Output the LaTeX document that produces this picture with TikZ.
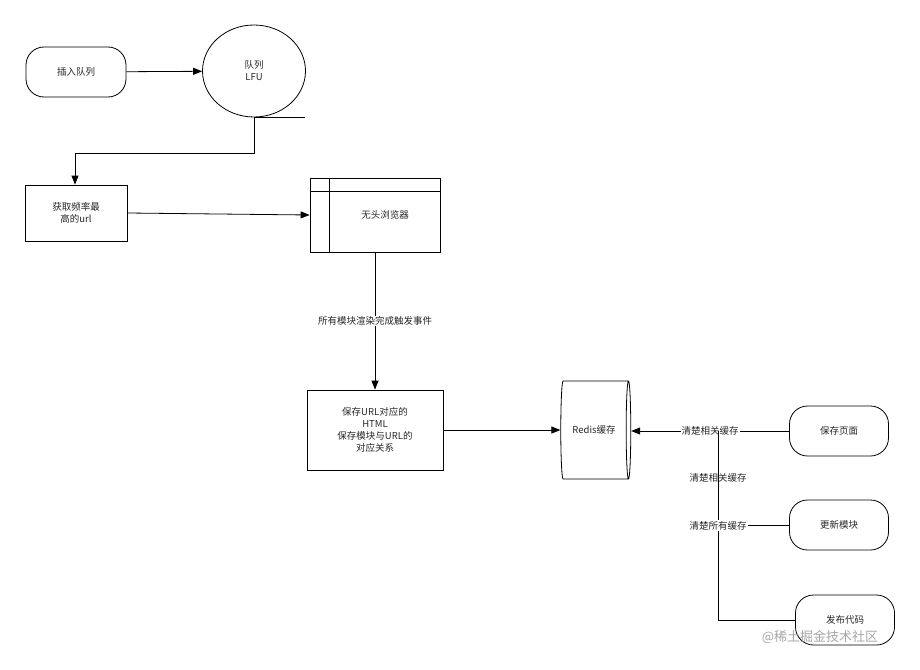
\documentclass[tikz,border=0pt]{standalone}
\usepackage{fontspec}
\setmainfont{Noto Sans CJK SC}
\usetikzlibrary{shapes.geometric,arrows.meta}
\begin{document}
\begin{tikzpicture}[x=1pt,y=-1pt,>={Triangle[length=9pt,width=7pt]},
  every node/.style={font=\fontsize{9.5}{12}\selectfont,text=black!85},
  pill/.style={draw,thick,rounded corners=18pt,minimum width=100pt,minimum height=50pt,align=center},
  box/.style={draw,thick,align=center},
  lbl/.style={fill=white,inner sep=1pt}]
  \useasboundingbox (0,0) rectangle (920,669);
  \path[thick]
  (76,72) node[pill] (IN) {插入队列}
  (254,71) node[draw,ellipse,minimum width=103pt,minimum height=92pt,align=center] (Q) {队列\\LFU}
  (76,213) node[box,minimum width=102pt,minimum height=56pt] (GET) {获取频率最\\高的url}
  (375,215) node[box,minimum width=130pt,minimum height=74pt] (BR) {\hspace{20pt}无头浏览器}
  (375,430) node[box,minimum width=136pt,minimum height=80pt] (SAVE) {保存URL对应的\\HTML\\保存模块与URL的\\对应关系}
  (594,430) node[draw,cylinder,minimum width=98pt,minimum height=70pt,aspect=0.3] (RD) {Redis缓存}
  (839,431) node[pill,minimum width=99pt] (PG) {保存页面}
  (839,525) node[pill,minimum width=99pt] (MOD) {更新模块}
  (845,620) node[pill,minimum width=99pt] (CODE) {发布代码};
  \path (820,637) node[text=black!35,font=\fontsize{13}{15}\selectfont] (WM) {@稀土掘金技术社区};
  \draw[thick] (BR.north west) ++(0,14) -- ++(130,0);
  \draw[thick] (BR.north west) ++(20,0) -- ++(0,74);
  \draw[thick] (Q.south) -- ++(51,0);

  \draw[->,thick] (IN) -- (Q);
  \draw[->,thick] (Q.south) |- (75,153) -- (GET.north-|75,0);
  \draw[->,thick] (GET.east) -- (BR.west);
  \draw[->,thick] (BR.south) -- node[lbl] {所有模块渲染完成触发事件} (SAVE.north);
  \draw[->,thick] (SAVE.east) -- (RD.west);
  \coordinate (J) at (718,431);
  \draw[->,thick] (PG.west) -- node[lbl] {清楚相关缓存} (RD.east|-J);
  \draw[thick] (MOD.west) -| (J) node[lbl,pos=0.75] {清楚相关缓存};
  \draw[thick] (CODE.west) -| (J) node[lbl,pos=0.75] {清楚所有缓存};
\end{tikzpicture}
\end{document}
